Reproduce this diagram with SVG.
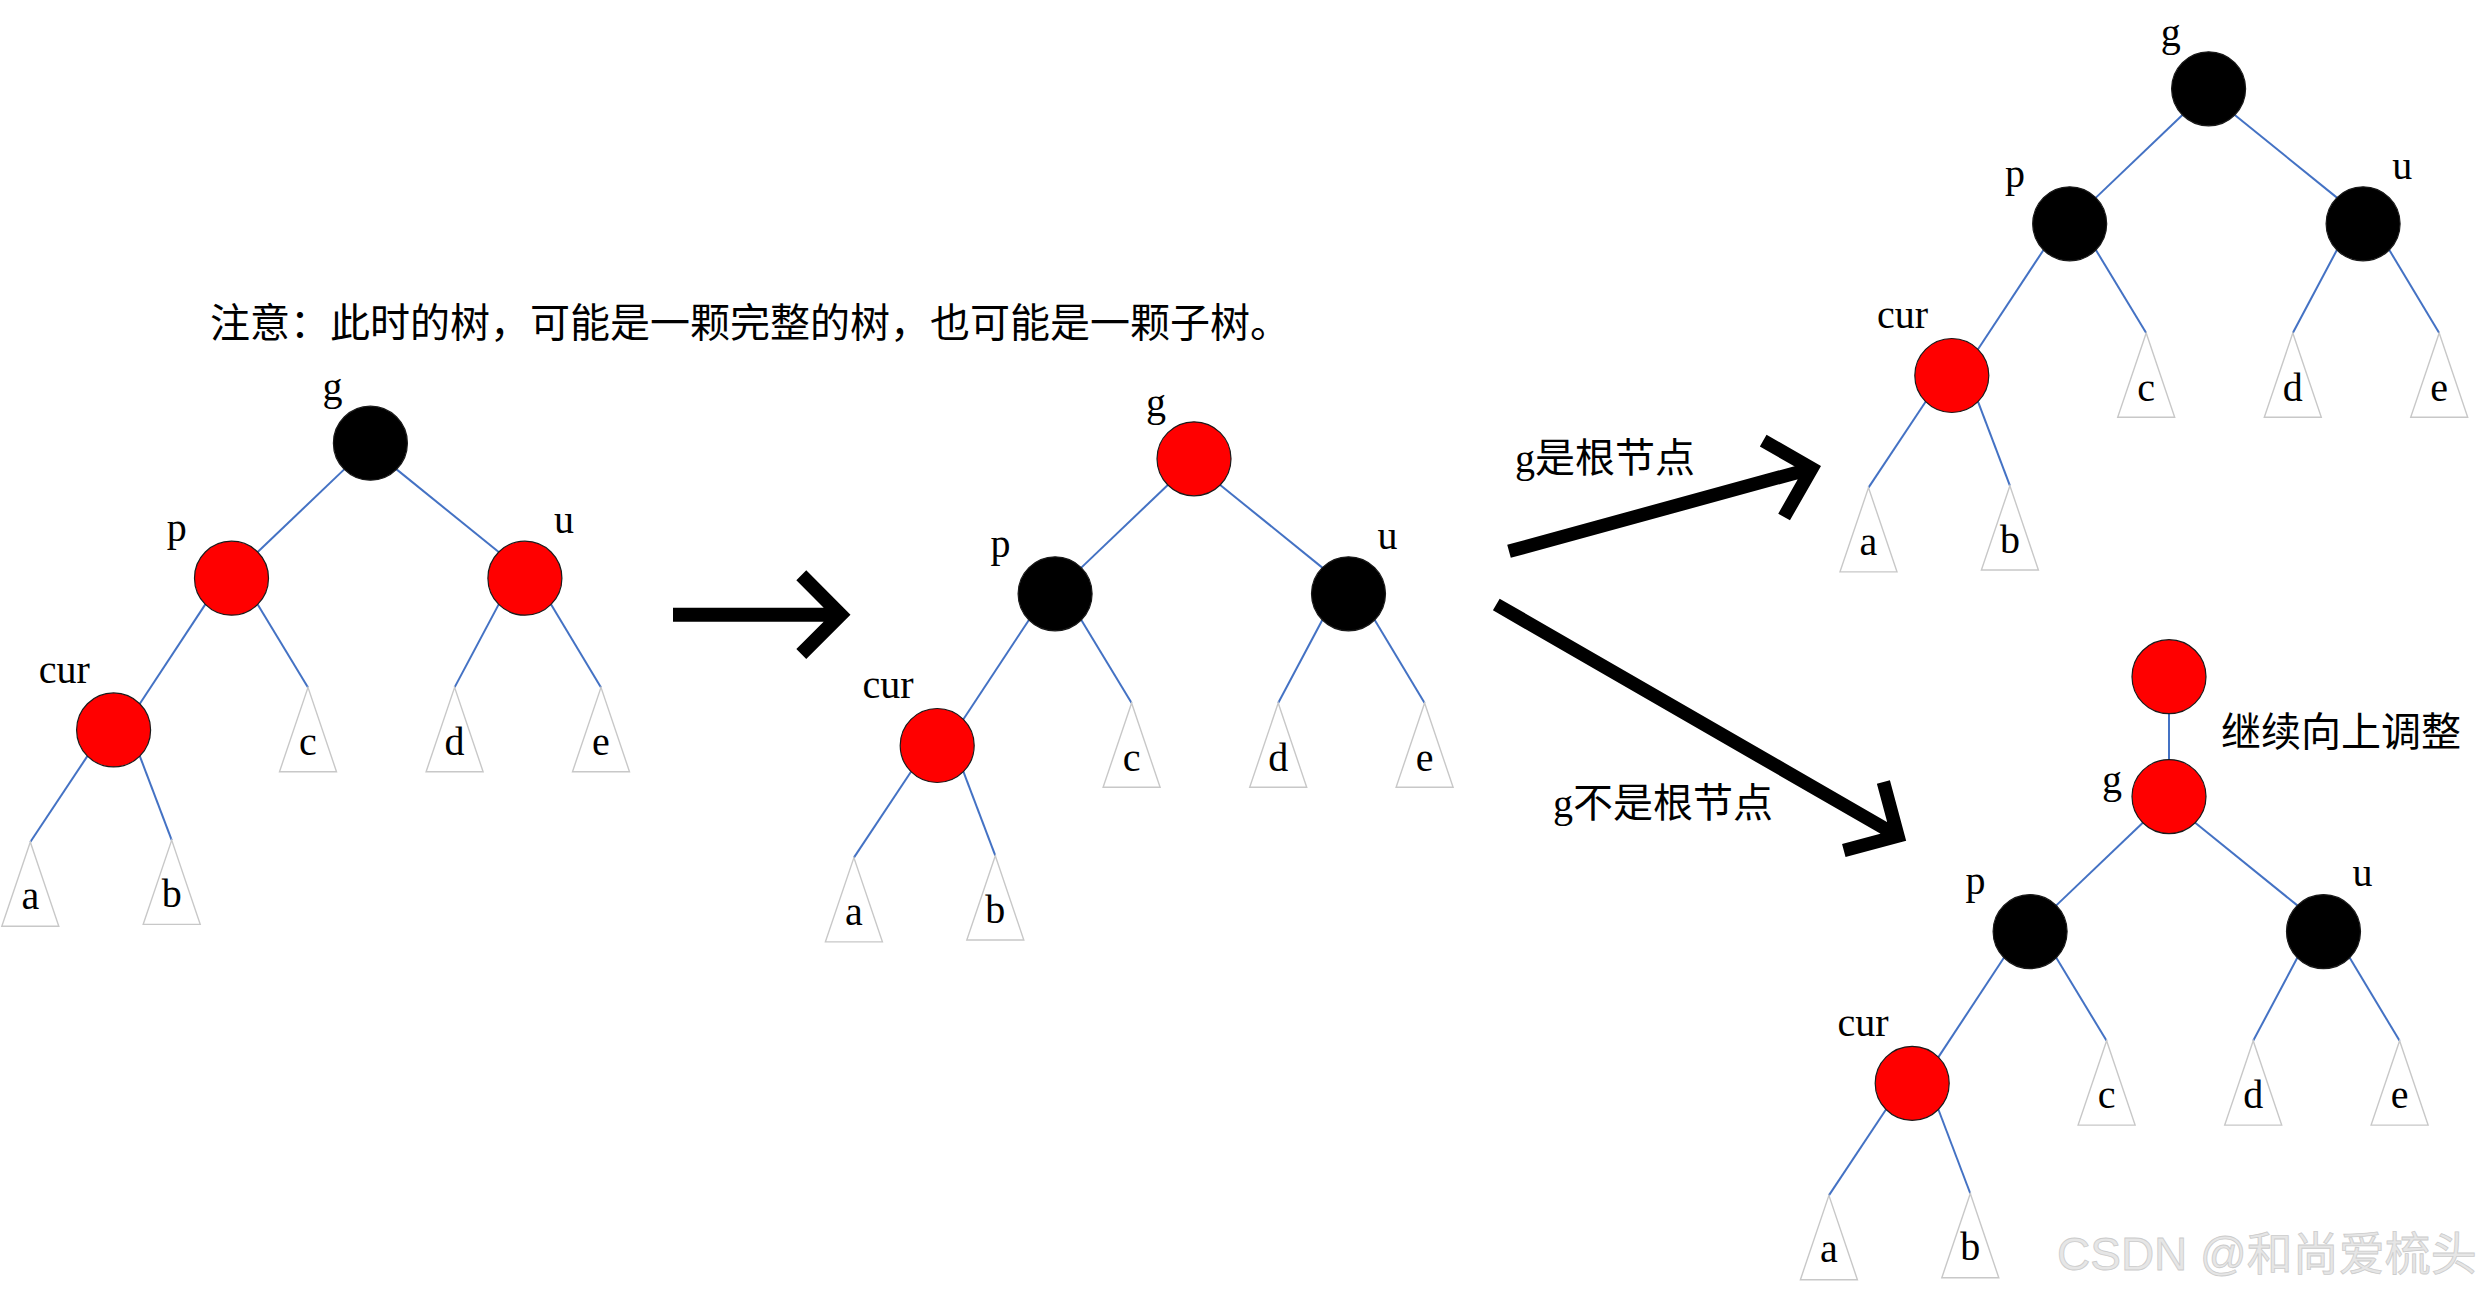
<svg xmlns="http://www.w3.org/2000/svg" width="2483" height="1294" viewBox="0 0 2483 1294">
<style>
.edge{stroke:#4472C4;stroke-width:2;fill:none}
.tri{fill:none;stroke:#C8C8C8;stroke-width:1.4}
.red{fill:#FF0000;stroke:#1a1a1a;stroke-width:1.2}
.blk{fill:#000000;stroke:#1a1a1a;stroke-width:1.2}
.lbl{font-family:"Liberation Serif","Times New Roman",serif;font-size:40px;text-anchor:middle;fill:#000}
.cjk{font-family:"Noto Sans CJK SC",sans-serif;font-size:40px;fill:#000}
.ser{font-family:"Liberation Serif","Times New Roman",serif}
.arrow{stroke:#000;stroke-width:14;fill:none;stroke-linejoin:miter;stroke-miterlimit:10;stroke-linecap:butt}
.wm{font-family:"Liberation Sans","Noto Sans CJK SC",sans-serif;font-size:46px;fill:#e6e6e6;stroke:#cccccc;stroke-width:0.8}
</style>
<rect width="2483" height="1294" fill="#ffffff"/>

<text id="note" class="cjk" x="210" y="337">注意：此时的树，可能是一颗完整的树，也可能是一颗子树。</text>

<!-- Tree 1 -->
<g id="tree1">
  <g id="tree1-connectors">
    <path class="edge" d="M344.2,469.4 L257.7,552"/>
    <path class="edge" d="M396.6,469.4 L498.7,552"/>
    <path class="edge" d="M205.3,604.4 L139.8,703.7"/>
    <path class="edge" d="M257.7,604.4 L308,687.4"/>
    <path class="edge" d="M498.7,604.4 L454.6,687.4"/>
    <path class="edge" d="M551.1,604.4 L601,687.4"/>
    <path class="edge" d="M87.4,756.1 L30.3,842"/>
    <path class="edge" d="M139.8,756.1 L171.7,840.1"/>
  </g>
  <g id="t1-g"><circle class="blk" cx="370.4" cy="443.2" r="37"/><text class="lbl" x="332.5" y="400">g</text></g>
  <g id="t1-p"><circle class="red" cx="231.5" cy="578.2" r="37"/><text class="lbl" x="176.8" y="541">p</text></g>
  <g id="t1-u"><circle class="red" cx="524.9" cy="578.2" r="37"/><text class="lbl" x="564" y="533">u</text></g>
  <g id="t1-cur"><circle class="red" cx="113.6" cy="729.9" r="37"/><text class="lbl" x="64.4" y="682.6">cur</text></g>
  <g id="t1-a"><polygon class="tri" points="30.3,842 1.8,926.3 58.8,926.3"/><text class="lbl" x="30.3" y="909">a</text></g>
  <g id="t1-b"><polygon class="tri" points="171.7,840.1 143.2,924.4 200.2,924.4"/><text class="lbl" x="171.7" y="907">b</text></g>
  <g id="t1-c"><polygon class="tri" points="308,687.4 279.5,771.7 336.5,771.7"/><text class="lbl" x="308" y="755">c</text></g>
  <g id="t1-d"><polygon class="tri" points="454.6,687.4 426.1,771.7 483.1,771.7"/><text class="lbl" x="454.6" y="755">d</text></g>
  <g id="t1-e"><polygon class="tri" points="601,687.4 572.5,771.7 629.5,771.7"/><text class="lbl" x="601" y="755">e</text></g>
</g>

<!-- Tree 2 -->
<g id="tree2" transform="translate(823.6,15.6)">
  <g id="tree2-connectors">
    <path class="edge" d="M344.2,469.4 L257.7,552"/>
    <path class="edge" d="M396.6,469.4 L498.7,552"/>
    <path class="edge" d="M205.3,604.4 L139.8,703.7"/>
    <path class="edge" d="M257.7,604.4 L308,687.4"/>
    <path class="edge" d="M498.7,604.4 L454.6,687.4"/>
    <path class="edge" d="M551.1,604.4 L601,687.4"/>
    <path class="edge" d="M87.4,756.1 L30.3,842"/>
    <path class="edge" d="M139.8,756.1 L171.7,840.1"/>
  </g>
  <g id="t2-g"><circle class="red" cx="370.4" cy="443.2" r="37"/><text class="lbl" x="332.5" y="400">g</text></g>
  <g id="t2-p"><circle class="blk" cx="231.5" cy="578.2" r="37"/><text class="lbl" x="176.8" y="541">p</text></g>
  <g id="t2-u"><circle class="blk" cx="524.9" cy="578.2" r="37"/><text class="lbl" x="564" y="533">u</text></g>
  <g id="t2-cur"><circle class="red" cx="113.6" cy="729.9" r="37"/><text class="lbl" x="64.4" y="682.6">cur</text></g>
  <g id="t2-a"><polygon class="tri" points="30.3,842 1.8,926.3 58.8,926.3"/><text class="lbl" x="30.3" y="909">a</text></g>
  <g id="t2-b"><polygon class="tri" points="171.7,840.1 143.2,924.4 200.2,924.4"/><text class="lbl" x="171.7" y="907">b</text></g>
  <g id="t2-c"><polygon class="tri" points="308,687.4 279.5,771.7 336.5,771.7"/><text class="lbl" x="308" y="755">c</text></g>
  <g id="t2-d"><polygon class="tri" points="454.6,687.4 426.1,771.7 483.1,771.7"/><text class="lbl" x="454.6" y="755">d</text></g>
  <g id="t2-e"><polygon class="tri" points="601,687.4 572.5,771.7 629.5,771.7"/><text class="lbl" x="601" y="755">e</text></g>
</g>

<!-- Tree 3 -->
<g id="tree3" transform="translate(1838.2,-354.4)">
  <g id="tree3-connectors">
    <path class="edge" d="M344.2,469.4 L257.7,552"/>
    <path class="edge" d="M396.6,469.4 L498.7,552"/>
    <path class="edge" d="M205.3,604.4 L139.8,703.7"/>
    <path class="edge" d="M257.7,604.4 L308,687.4"/>
    <path class="edge" d="M498.7,604.4 L454.6,687.4"/>
    <path class="edge" d="M551.1,604.4 L601,687.4"/>
    <path class="edge" d="M87.4,756.1 L30.3,842"/>
    <path class="edge" d="M139.8,756.1 L171.7,840.1"/>
  </g>
  <g id="t3-g"><circle class="blk" cx="370.4" cy="443.2" r="37"/><text class="lbl" x="332.5" y="400">g</text></g>
  <g id="t3-p"><circle class="blk" cx="231.5" cy="578.2" r="37"/><text class="lbl" x="176.8" y="541">p</text></g>
  <g id="t3-u"><circle class="blk" cx="524.9" cy="578.2" r="37"/><text class="lbl" x="564" y="533">u</text></g>
  <g id="t3-cur"><circle class="red" cx="113.6" cy="729.9" r="37"/><text class="lbl" x="64.4" y="682.6">cur</text></g>
  <g id="t3-a"><polygon class="tri" points="30.3,842 1.8,926.3 58.8,926.3"/><text class="lbl" x="30.3" y="909">a</text></g>
  <g id="t3-b"><polygon class="tri" points="171.7,840.1 143.2,924.4 200.2,924.4"/><text class="lbl" x="171.7" y="907">b</text></g>
  <g id="t3-c"><polygon class="tri" points="308,687.4 279.5,771.7 336.5,771.7"/><text class="lbl" x="308" y="755">c</text></g>
  <g id="t3-d"><polygon class="tri" points="454.6,687.4 426.1,771.7 483.1,771.7"/><text class="lbl" x="454.6" y="755">d</text></g>
  <g id="t3-e"><polygon class="tri" points="601,687.4 572.5,771.7 629.5,771.7"/><text class="lbl" x="601" y="755">e</text></g>
</g>

<!-- Tree 4 -->
<g id="tree4" transform="translate(1798.6,353.4)">
  <g id="tree4-connectors">
    <path class="edge" d="M370.4,323.3 L370.4,443.2"/>
    <path class="edge" d="M344.2,469.4 L257.7,552"/>
    <path class="edge" d="M396.6,469.4 L498.7,552"/>
    <path class="edge" d="M205.3,604.4 L139.8,703.7"/>
    <path class="edge" d="M257.7,604.4 L308,687.4"/>
    <path class="edge" d="M498.7,604.4 L454.6,687.4"/>
    <path class="edge" d="M551.1,604.4 L601,687.4"/>
    <path class="edge" d="M87.4,756.1 L30.3,842"/>
    <path class="edge" d="M139.8,756.1 L171.7,840.1"/>
  </g>
  <g id="t4-top"><circle class="red" cx="370.4" cy="323.3" r="37"/></g>
  <g id="t4-g"><circle class="red" cx="370.4" cy="443.2" r="37"/><text class="lbl" x="313.4" y="439.6">g</text></g>
  <g id="t4-p"><circle class="blk" cx="231.5" cy="578.2" r="37"/><text class="lbl" x="176.8" y="541">p</text></g>
  <g id="t4-u"><circle class="blk" cx="524.9" cy="578.2" r="37"/><text class="lbl" x="564" y="533">u</text></g>
  <g id="t4-cur"><circle class="red" cx="113.6" cy="729.9" r="37"/><text class="lbl" x="64.4" y="682.6">cur</text></g>
  <g id="t4-a"><polygon class="tri" points="30.3,842 1.8,926.3 58.8,926.3"/><text class="lbl" x="30.3" y="909">a</text></g>
  <g id="t4-b"><polygon class="tri" points="171.7,840.1 143.2,924.4 200.2,924.4"/><text class="lbl" x="171.7" y="907">b</text></g>
  <g id="t4-c"><polygon class="tri" points="308,687.4 279.5,771.7 336.5,771.7"/><text class="lbl" x="308" y="755">c</text></g>
  <g id="t4-d"><polygon class="tri" points="454.6,687.4 426.1,771.7 483.1,771.7"/><text class="lbl" x="454.6" y="755">d</text></g>
  <g id="t4-e"><polygon class="tri" points="601,687.4 572.5,771.7 629.5,771.7"/><text class="lbl" x="601" y="755">e</text></g>
</g>

<text id="t4-note" class="cjk" x="2221" y="746">继续向上调整</text>

<!-- Big arrows -->
<g id="arrows">
  <path class="arrow" d="M673,614.7 L840.6,614.7 M801.3,575.3 L840.6,614.7 L801.3,654"/>
  <path class="arrow" style="stroke-width:13.5" d="M1509,551.3 L1811.8,468.4 M1763.2,440.7 L1811.8,468.4 L1784.1,517"/>
  <path class="arrow" style="stroke-width:13.5" d="M1496.3,604.5 L1897.9,836 M1883.4,781.9 L1897.9,836 L1843.8,850.5"/>
</g>

<text id="lbl-root" class="cjk" x="1515" y="472"><tspan class="ser">g</tspan>是根节点</text>
<text id="lbl-notroot" class="cjk" x="1553" y="817"><tspan class="ser">g</tspan>不是根节点</text>

<text id="watermark" class="wm" x="2057" y="1270">CSDN @和尚爱梳头</text>
</svg>
